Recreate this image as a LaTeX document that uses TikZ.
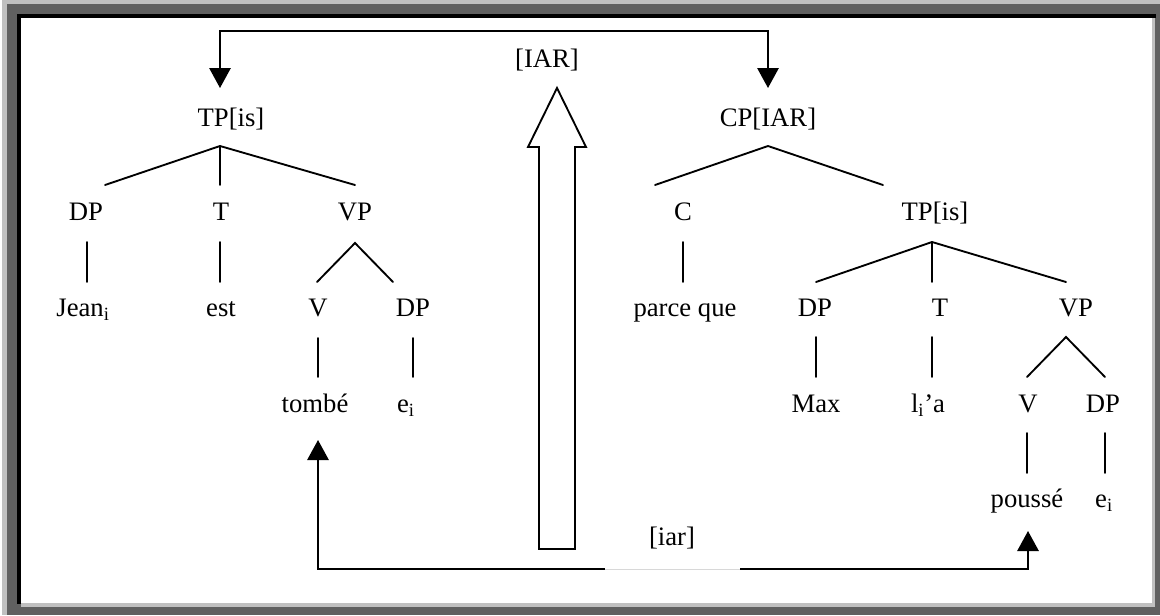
\documentclass[tikz,border=0pt]{standalone}
\usepackage{fontspec}
\setmainfont{Liberation Serif}
\usetikzlibrary{arrows.meta}
\definecolor{frameDark}{HTML}{606060}
\definecolor{frameLight}{HTML}{C0C0C0}
\definecolor{gapGray}{HTML}{D8D8D8}
\begin{document}
\begin{tikzpicture}[x=0.75pt,y=-0.75pt,
  lbl/.style={font=\fontsize{20}{24}\selectfont, anchor=base, inner sep=0pt},
  branch/.style={line width=1.4pt, line cap=round},
  pointer/.style={line width=1.4pt, -{Triangle[width=16pt,length=15pt]}},
  twoway/.style={line width=1.4pt, {Triangle[width=16pt,length=15pt]}-{Triangle[width=16pt,length=15pt]}}]
\useasboundingbox (0,0) rectangle (1160,615);
% bevelled frame
\fill[frameDark] (2,0) rectangle (1160,615);
\fill[frameLight] (2,0) rectangle (1160,4);
\fill[frameLight] (2,0) rectangle (7,615);
\fill[black] (17,14) rectangle (1156,18);
\fill[black] (17,14) rectangle (21,604);
\fill[frameLight] (21,603) rectangle (1155,607);
\fill[frameLight] (1152,18) rectangle (1155,607);
\fill[white] (21,18) rectangle (1152,603);

% ---------- left tree ----------
\node[lbl] (tpL) at (231,126) {TP[is]};
\node[lbl] (dpL) at (86,220) {DP};
\node[lbl] (tL) at (221,220) {T};
\node[lbl] (vpL) at (355,220) {VP};
\node[lbl] (jean) at (83,316) {Jean\textsubscript{i}};
\node[lbl] (est) at (221,316) {est};
\node[lbl] (vL) at (318,316) {V};
\node[lbl] (dpL2) at (413,316) {DP};
\node[lbl] (tombe) at (315,412) {tombé};
\node[lbl] (eL) at (406,412) {e\textsubscript{i}};

\coordinate (tpLa) at (220,146);
\coordinate (tpLl) at (105,185);
\coordinate (tpLm) at (220,185);
\coordinate (tpLr) at (355,185);
\draw[branch] (tpLl) -- (tpLa) -- (tpLr);
\draw[branch] (tpLa) -- (tpLm);
\coordinate (dpLt) at (87,242);  \coordinate (dpLb) at (87,282);
\draw[branch] (dpLt) -- (dpLb);
\coordinate (tLt) at (220,242);  \coordinate (tLb) at (220,282);
\draw[branch] (tLt) -- (tLb);
\coordinate (vpLa) at (355,243);
\coordinate (vpLl) at (317,282);
\coordinate (vpLr) at (393,282);
\draw[branch] (vpLl) -- (vpLa) -- (vpLr);
\coordinate (vLt) at (318,338);  \coordinate (vLb) at (318,377);
\draw[branch] (vLt) -- (vLb);
\coordinate (dpL2t) at (413,338);  \coordinate (dpL2b) at (413,377);
\draw[branch] (dpL2t) -- (dpL2b);

% ---------- right tree ----------
\node[lbl] (cp) at (768,126) {CP[IAR]};
\node[lbl] (cR) at (683,220) {C};
\node[lbl] (tpR) at (935,220) {TP[is]};
\node[lbl] (parce) at (685,316) {parce que};
\node[lbl] (dpR) at (815,316) {DP};
\node[lbl] (tR) at (940,316) {T};
\node[lbl] (vpR) at (1076,316) {VP};
\node[lbl] (max) at (816,412) {Max};
\node[lbl] (lia) at (928,412) {l\textsubscript{i}’a};
\node[lbl] (vR) at (1028,412) {V};
\node[lbl] (dpR2) at (1103,412) {DP};
\node[lbl] (pousse) at (1027,507) {poussé};
\node[lbl] (eR) at (1104,507) {e\textsubscript{i}};

\coordinate (cpa) at (768,146);
\coordinate (cpl) at (655,185);
\coordinate (cpr) at (883,185);
\draw[branch] (cpl) -- (cpa) -- (cpr);
\coordinate (cRt) at (683,242);  \coordinate (cRb) at (683,282);
\draw[branch] (cRt) -- (cRb);
\coordinate (tpRa) at (932,242);
\coordinate (tpRl) at (816,282);
\coordinate (tpRm) at (932,282);
\coordinate (tpRr) at (1066,282);
\draw[branch] (tpRl) -- (tpRa) -- (tpRr);
\draw[branch] (tpRa) -- (tpRm);
\coordinate (dpRt) at (816,337);  \coordinate (dpRb) at (816,377);
\draw[branch] (dpRt) -- (dpRb);
\coordinate (tRt) at (932,337);  \coordinate (tRb) at (932,377);
\draw[branch] (tRt) -- (tRb);
\coordinate (vpRa) at (1066,337);
\coordinate (vpRl) at (1027,377);
\coordinate (vpRr) at (1105,377);
\draw[branch] (vpRl) -- (vpRa) -- (vpRr);
\coordinate (vRt) at (1027,433);  \coordinate (vRb) at (1027,473);
\draw[branch] (vRt) -- (vRb);
\coordinate (dpR2t) at (1105,433);  \coordinate (dpR2b) at (1105,473);
\draw[branch] (dpR2t) -- (dpR2b);

% ---------- feature transfer ----------
\node[lbl] (IAR) at (547,67) {[IAR]};
\node[lbl] (iar) at (672,545) {[iar]};

% upward block arrow
\draw[line width=1.4pt, line join=miter]
  (539,549) -- (539,147) -- (528,147) -- (557,88) -- (586,147)
  -- (575,147) -- (575,549) -- cycle;

% top bracket arrow to both phrases
\coordinate (tipTP) at (220,88);
\coordinate (cornL) at (220,31);
\coordinate (cornR) at (768,31);
\coordinate (tipCP) at (768,88);
\draw[twoway, line join=miter] (tipTP) -- (cornL) -- (cornR) -- (tipCP);

% bottom bracket arrow to the two participles
\coordinate (tipTombe) at (318,440);
\coordinate (botL) at (318,569);
\coordinate (botR) at (1028,569);
\coordinate (tipPousse) at (1028,531);
\draw[twoway, line join=miter] (tipTombe) -- (botL) -- (botR) -- (tipPousse);
\coordinate (gapL) at (605,569);
\coordinate (gapR) at (740,569);
\draw[white, line width=2.2pt] (gapL) -- (gapR);
\draw[gapGray, line width=0.7pt] (gapL) -- (gapR);
\end{tikzpicture}
\end{document}
